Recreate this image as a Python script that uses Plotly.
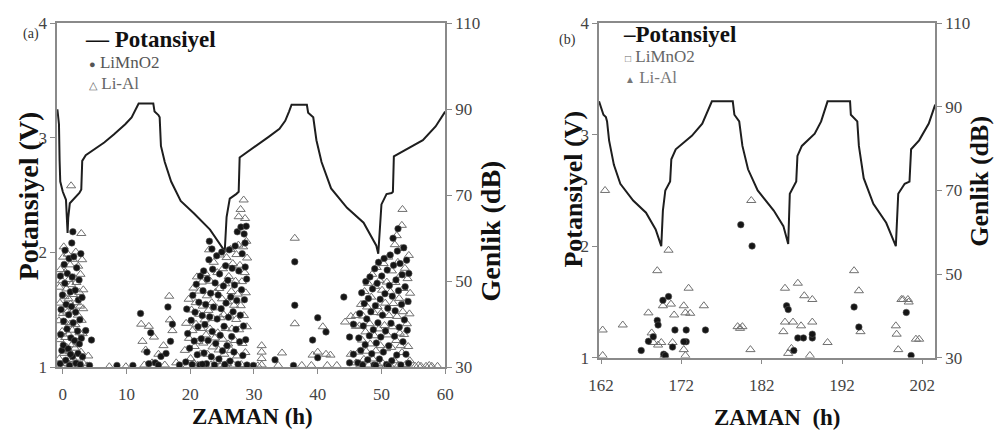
import plotly.graph_objects as go

W, H = 1003, 448
FONT = "Liberation Serif"

# ---------------- data: panel (a) ----------------
pot_a_t = [-0.85, -0.6, -0.5, -0.4, 0.0, 0.5, 0.75, 0.85, 1.1, 1.8, 2.6, 2.9, 3.05, 3.6, 5.0, 6.5, 8.0, 9.8, 10.8, 11.5,
           11.9, 14.2, 14.4, 15.0, 15.2, 15.4, 16.0, 17.0, 18.5, 20.6, 23.1, 25.2, 25.4, 25.7, 26.2, 27.2, 27.6, 27.75,
           28.8, 30.5, 32.3, 34.0, 34.9, 35.5, 35.9, 38.3, 38.5, 39.3, 39.8, 40.6, 42.1, 44.6, 47.2, 49.2, 49.5, 50.0,
           50.8, 51.6, 51.8, 51.95, 52.9, 54.7, 56.5, 58.5, 60.0]
pot_a_v = [3.25, 3.12, 2.8, 2.62, 2.53, 2.46, 2.17, 2.3, 2.43, 2.47, 2.52, 2.55, 2.8, 2.85, 2.9, 2.96, 3.03, 3.12, 3.18, 3.25,
           3.3, 3.3, 3.23, 3.2, 3.18, 2.93, 2.79, 2.62, 2.45, 2.34, 2.2, 2.03, 2.0, 2.31, 2.47, 2.51, 2.53, 2.83,
           2.87, 2.94, 3.01, 3.08, 3.15, 3.23, 3.29, 3.29, 3.22, 3.18, 2.98, 2.79, 2.56, 2.39, 2.26, 2.06, 1.99, 2.42,
           2.51, 2.52, 2.53, 2.84, 2.87, 2.93, 2.98, 3.1, 3.23]

# LiMnO2 acoustic events in (a): (time h, amplitude dB)
a_limno2 = [
    (-0.42, 30.8), (-0.15, 33.9), (-0.33, 37.6), (0.08, 35.1), (-0.27, 43.4), (0.12, 40.7), (-0.05, 46.8), (0.31, 49.5),
    (-0.38, 51.2), (0.22, 53.9), (0.47, 31.6), (0.66, 38.9), (0.52, 44.6), (0.84, 34.3), (0.71, 51.8), (0.93, 42.2),
    (1.06, 30.4), (1.18, 47.5), (0.98, 55.3), (1.27, 36.8), (1.41, 58.9), (1.36, 44.1), (1.52, 32.5), (1.63, 40.3),
    (1.47, 51.0), (1.72, 55.7), (1.84, 36.2), (1.95, 47.9), (2.07, 30.9), (2.02, 42.8), (2.18, 53.1), (2.31, 38.4),
    (2.44, 45.6), (2.39, 33.2), (2.55, 50.3), (2.68, 41.0), (2.74, 30.6), (2.83, 56.4), (2.91, 36.7), (3.02, 46.2),
    (3.1, 32.4), (1.58, 61.5), (0.35, 57.2), (2.6, 35.4), (1.2, 33.0),
    (3.6, 38.5), (4.5, 36.3), (4.2, 30.4), (8.5, 30.4), (11.0, 30.4),
    (12.2, 42.5), (13.2, 33.5), (13.8, 38.0), (14.5, 31.0), (15.4, 32.5), (16.5, 44.0), (16.9, 36.0),
    (17.2, 40.0), (18.3, 30.5), (15.0, 30.5), (13.5, 30.8), (16.2, 33.2),
    (19.3, 31.2), (19.6, 37.8), (19.45, 43.5), (19.9, 34.4), (20.15, 40.9), (20.3, 30.6), (20.4, 46.7), (20.62, 36.1),
    (20.75, 42.8), (20.95, 49.3), (21.1, 32.9), (21.22, 39.4), (21.35, 45.1), (21.5, 30.5), (21.6, 51.2), (21.73, 36.6),
    (21.88, 42.0), (22.0, 47.8), (22.1, 52.4), (22.16, 33.3), (22.3, 39.9), (22.42, 44.6), (22.55, 30.8), (22.67, 50.5),
    (22.8, 36.2), (22.93, 55.0), (23.0, 59.3), (23.06, 41.7), (23.2, 47.2), (23.3, 32.4), (23.45, 38.3), (23.52, 52.8),
    (23.66, 44.0), (23.8, 30.5), (23.9, 49.6), (24.0, 35.5), (24.15, 55.9), (24.22, 41.2), (24.38, 46.8), (24.5, 31.9),
    (24.6, 51.7), (24.7, 37.4), (24.85, 43.6), (24.95, 56.8), (25.06, 33.8), (25.2, 48.9), (25.3, 39.5), (25.42, 30.6),
    (25.55, 53.6), (25.62, 44.9), (25.77, 35.0), (25.9, 50.2), (26.0, 41.6), (26.12, 57.3), (26.25, 31.4), (26.35, 46.3),
    (26.5, 37.1), (26.58, 53.0), (26.72, 42.9), (26.85, 33.5), (26.95, 49.1), (27.05, 58.2), (27.18, 38.8), (27.3, 45.5),
    (27.38, 61.5), (27.5, 30.7), (27.62, 52.4), (27.75, 35.9), (27.85, 42.1), (27.95, 62.6), (28.05, 48.0), (28.15, 56.4),
    (28.25, 32.7), (28.35, 39.6), (28.45, 61.0), (28.5, 45.7), (28.62, 53.3), (28.7, 36.4), (28.78, 62.8), (28.85, 50.5),
    (28.9, 30.5), (28.6, 58.9), (21.9, 30.7), (23.4, 57.5),
    (29.9, 30.4), (33.3, 31.7), (36.4, 54.5), (36.4, 44.4), (39.2, 36.3), (40.0, 41.5), (41.3, 38.2),
    (40.0, 32.2), (36.2, 30.4), (44.1, 46.3), (45.0, 31.0), (45.0, 37.0), (45.6, 33.0), (45.6, 40.0),
    (46.3, 31.0), (46.45, 36.8), (46.6, 42.5), (46.75, 33.9), (46.9, 47.3), (47.05, 30.5), (47.15, 39.6), (47.3, 44.8),
    (47.45, 35.2), (47.55, 49.9), (47.7, 41.2), (47.85, 31.7), (47.95, 46.0), (48.1, 37.3), (48.2, 51.0), (48.35, 42.9),
    (48.48, 33.1), (48.6, 48.2), (48.72, 38.7), (48.85, 30.5), (48.95, 52.9), (49.05, 44.3), (49.2, 35.6), (49.32, 49.5),
    (49.45, 40.3), (49.55, 54.4), (49.68, 31.9), (49.8, 45.8), (49.9, 37.0), (50.05, 51.2), (50.15, 42.1), (50.3, 33.5),
    (50.42, 55.3), (50.55, 47.1), (50.65, 38.4), (50.8, 30.6), (50.9, 52.6), (51.0, 43.7), (51.15, 35.0), (51.25, 49.0),
    (51.38, 56.1), (51.5, 40.2), (51.62, 31.5), (51.7, 46.5), (51.82, 60.0), (51.9, 53.7), (52.05, 37.2), (52.15, 43.1),
    (52.28, 50.3), (52.4, 32.8), (52.5, 57.0), (52.6, 62.2), (52.68, 47.8), (52.8, 39.3), (52.92, 54.1), (53.05, 30.5),
    (53.15, 44.6), (53.25, 51.5), (53.38, 35.9), (53.5, 57.8), (53.6, 41.0), (53.72, 48.7), (53.85, 33.0), (53.95, 54.9),
    (54.05, 38.6), (54.18, 45.3), (54.3, 51.8), (54.25, 30.9), (49.1, 30.4), (51.1, 30.3),
]

# Li-Al acoustic events in (a): (time h, amplitude dB)
a_lial = [
    (-0.55, 31.9), (-0.48, 36.4), (-0.6, 40.8), (-0.44, 44.9), (-0.52, 48.6), (-0.36, 52.7), (-0.2, 30.3), (-0.1, 38.3),
    (0.02, 42.5), (-0.12, 50.1), (0.05, 55.6), (0.18, 33.2), (0.27, 46.4), (0.38, 36.9), (0.44, 40.4), (0.41, 52.1),
    (0.57, 48.2), (0.62, 34.6), (0.74, 30.9), (0.69, 42.8), (0.78, 56.3), (0.88, 37.7), (0.9, 45.9), (0.96, 50.4),
    (1.03, 33.6), (1.12, 40.0), (1.15, 53.8), (1.22, 44.7), (1.31, 30.5), (1.33, 49.2), (1.44, 35.2), (1.5, 38.6),
    (1.56, 55.1), (1.61, 46.9), (1.7, 31.8), (1.75, 43.3), (1.8, 50.8), (1.9, 34.4), (1.98, 39.9), (2.04, 56.8),
    (2.1, 45.0), (2.14, 49.7), (2.22, 32.1), (2.27, 35.8), (2.36, 42.1), (2.42, 53.5), (2.5, 30.4), (2.58, 47.4),
    (2.63, 38.0), (2.7, 44.2), (2.77, 51.6), (2.86, 33.5), (2.9, 61.1), (2.96, 40.9), (3.04, 55.0), (3.13, 37.8),
    (3.2, 43.6), (3.27, 30.8), (3.22, 48.0), (0.15, 58.0),
    (1.3, 72.2), (4.0, 32.6), (3.8, 30.3), (7.3, 30.1), (9.9, 30.1),
    (12.3, 40.0), (12.5, 36.0), (13.0, 34.0), (13.5, 39.5), (14.3, 37.0), (15.0, 33.0), (15.8, 35.0),
    (16.7, 46.5), (16.8, 41.0), (17.2, 38.5), (14.0, 31.0), (17.8, 31.0), (12.8, 30.5), (16.0, 30.5),
    (19.15, 33.9), (19.35, 40.2), (19.55, 30.4), (19.75, 45.8), (19.8, 36.7), (20.05, 32.0), (20.2, 43.3), (20.35, 38.5),
    (20.5, 48.4), (20.55, 30.9), (20.7, 34.8), (20.85, 45.0), (20.9, 40.0), (21.05, 51.0), (21.15, 30.5), (21.28, 36.0),
    (21.4, 42.3), (21.45, 47.7), (21.62, 33.1), (21.7, 39.0), (21.82, 49.8), (21.95, 44.2), (22.05, 35.6), (22.2, 30.4),
    (22.25, 41.0), (22.38, 51.8), (22.48, 37.5), (22.6, 46.6), (22.72, 33.0), (22.85, 43.2), (22.95, 57.3), (23.1, 38.9),
    (23.15, 50.0), (23.25, 30.5), (23.38, 45.0), (23.5, 34.7), (23.6, 41.3), (23.7, 54.4), (23.85, 36.8), (23.95, 47.4),
    (24.05, 31.3), (24.12, 43.8), (24.25, 52.0), (24.32, 38.0), (24.45, 34.0), (24.55, 48.3), (24.65, 56.1), (24.75, 41.5),
    (24.9, 30.5), (24.98, 45.9), (25.1, 36.5), (25.15, 52.9), (25.25, 42.2), (25.35, 33.0), (25.48, 49.4), (25.58, 39.0),
    (25.7, 55.5), (25.8, 30.8), (25.85, 45.2), (25.95, 35.4), (26.05, 51.1), (26.18, 41.9), (26.3, 57.4), (26.4, 33.9),
    (26.45, 47.6), (26.55, 38.9), (26.68, 54.1), (26.8, 30.5), (26.88, 44.4), (27.0, 36.2), (27.1, 50.0), (27.2, 41.1),
    (27.25, 56.2), (27.35, 32.6), (27.45, 47.0), (27.55, 58.4), (27.6, 65.0), (27.68, 38.7), (27.8, 53.7), (27.9, 66.7),
    (27.92, 44.3), (28.0, 30.6), (28.1, 49.9), (28.2, 35.5), (28.3, 58.0), (28.38, 68.9), (28.42, 42.0), (28.55, 52.0),
    (28.65, 33.4), (28.72, 47.3), (28.8, 59.3), (28.88, 39.4), (28.92, 55.4), (28.6, 64.6), (25.5, 30.5),
    (31.2, 30.5), (31.2, 32.0), (31.2, 33.5), (31.2, 35.0), (30.6, 30.3), (34.4, 33.3), (33.8, 30.4),
    (36.4, 60.0), (36.4, 40.1), (39.2, 32.8), (40.0, 33.5), (40.8, 39.4), (41.3, 33.0), (42.0, 32.8),
    (37.5, 30.4), (39.0, 30.4), (41.5, 30.4), (43.0, 30.4),
    (44.3, 40.5), (45.2, 41.8), (45.2, 33.0), (46.0, 39.5), (46.0, 42.0), (46.0, 31.0),
    (46.4, 33.5), (46.55, 39.6), (46.7, 30.5), (46.8, 44.6), (46.95, 36.3), (47.1, 41.9), (47.25, 31.8), (47.35, 47.6),
    (47.5, 38.2), (47.6, 33.7), (47.75, 44.0), (47.9, 49.5), (48.0, 30.5), (48.15, 40.1), (48.25, 35.4), (48.4, 46.3),
    (48.55, 51.6), (48.65, 31.9), (48.8, 42.7), (48.9, 37.3), (49.0, 48.8), (49.12, 33.8), (49.25, 53.2), (49.38, 44.1),
    (49.5, 30.5), (49.6, 38.9), (49.72, 50.2), (49.85, 35.0), (49.95, 42.6), (50.1, 47.9), (50.2, 30.9), (50.35, 54.1),
    (50.48, 39.7), (50.6, 44.9), (50.72, 34.3), (50.85, 49.8), (50.95, 37.5), (51.05, 55.6), (51.2, 42.0), (51.3, 30.5),
    (51.42, 47.5), (51.55, 34.6), (51.65, 52.4), (51.75, 39.4), (51.88, 44.8), (52.0, 31.5), (52.1, 58.5), (52.2, 49.7),
    (52.32, 36.2), (52.4, 60.6), (52.45, 41.8), (52.58, 54.4), (52.7, 30.5), (52.78, 46.0), (52.88, 37.9), (53.0, 51.4),
    (53.1, 57.6), (53.2, 63.0), (53.22, 33.4), (53.3, 66.7), (53.35, 42.9), (53.45, 48.3), (53.55, 37.6), (53.68, 53.0),
    (53.8, 30.6), (53.9, 45.2), (54.0, 40.1), (54.1, 50.6), (54.2, 34.8), (54.3, 56.0), (54.4, 42.4), (54.45, 31.5),
    (54.5, 47.2), (53.0, 35.0),
    (55.3, 30.2), (56.2, 30.2), (57.0, 30.2), (57.9, 30.2), (58.8, 30.2), (55.8, 30.4), (57.5, 30.4),
]

# ---------------- data: panel (b) ----------------
pot_b_t = [161.75, 162.3, 162.6, 162.75, 163.0, 163.6, 164.4, 166.0, 167.6, 168.8, 169.5, 169.7, 170.0, 170.5, 170.6,
           170.75, 171.3, 173.3, 174.6, 175.8, 178.4, 178.6, 179.2, 179.6, 180.3, 181.5, 183.5, 184.7, 185.3, 185.5,
           186.1, 186.3, 186.45, 187.0, 188.6, 189.4, 190.2, 193.0, 193.1, 193.9, 194.1, 194.7, 195.9, 197.5, 198.7,
           199.0, 199.8, 200.4, 200.6, 201.6, 202.8, 203.6]
pot_b_v = [3.3, 3.18, 3.16, 3.12, 2.95, 2.73, 2.56, 2.41, 2.30, 2.15, 2.0, 2.32, 2.5, 2.56, 2.58,
           2.78, 2.87, 2.99, 3.1, 3.3, 3.3, 3.18, 3.12, 2.9, 2.69, 2.5, 2.32, 2.18, 2.02, 2.47,
           2.56, 2.58, 2.81, 2.9, 3.01, 3.12, 3.3, 3.3, 3.18, 3.12, 2.9, 2.61, 2.38, 2.21, 2.0,
           2.47, 2.56, 2.58, 2.87, 2.95, 3.1, 3.27]

b_limno2 = [
    (167.0, 31.7), (167.9, 33.9), (169.0, 38.9), (169.1, 37.8), (169.7, 43.7), (170.4, 44.6), (169.8, 30.8),
    (170.9, 32.5), (171.2, 36.6), (172.6, 36.6), (172.6, 33.8), (172.3, 33.8), (175.0, 36.6), (180.8, 56.7),
    (179.4, 61.8), (185.1, 42.4), (185.3, 41.5), (186.0, 31.7), (186.5, 34.7), (187.2, 34.7), (188.3, 34.7),
    (188.3, 35.6), (193.5, 42.1), (194.1, 37.3), (200.0, 40.8), (200.6, 30.5), (168.5, 35.0), (170.0, 30.5),
]
b_lial = [
    (162.2, 36.6), (162.2, 30.5), (162.5, 70.0), (164.7, 37.8), (167.9, 40.7), (168.3, 35.9), (168.5, 33.6),
    (169.1, 33.0), (169.5, 33.6), (169.0, 50.8), (170.4, 55.7), (169.7, 42.4), (170.7, 42.8), (171.1, 40.2),
    (172.3, 42.4), (172.5, 40.7), (172.9, 46.6), (174.8, 42.4), (170.9, 33.6), (172.3, 31.9), (172.5, 30.5),
    (173.1, 40.6), (169.9, 30.5), (179.0, 37.4), (179.6, 37.4), (179.3, 37.0), (180.6, 31.9), (180.7, 67.6),
    (184.9, 46.6), (186.5, 47.8), (187.3, 44.8), (188.3, 43.9), (184.9, 38.5), (185.9, 38.5), (184.7, 36.2),
    (186.9, 37.6), (188.3, 38.5), (185.7, 32.2), (188.0, 30.5), (190.2, 33.6), (193.5, 50.8), (194.1, 46.0),
    (194.3, 36.2), (198.7, 37.6), (198.8, 35.6), (199.0, 31.9), (199.4, 43.9), (199.6, 43.9), (200.2, 43.9),
    (200.3, 43.3), (201.2, 34.4), (201.6, 34.4), (185.3, 31.0),
]

a_xticks = [0, 10, 20, 30, 40, 50, 60]
b_xticks = [162, 172, 182, 192, 202]
v_ticks = [1, 2, 3, 4]
db_ticks = [30, 50, 70, 90, 110]


def px(x):
    return x / W


def py(y):
    return 1 - y / H


fig = go.Figure()

TRI = dict(symbol="triangle-up-open", size=8, color="#707070", line=dict(width=1, color="#707070"))
DOT = dict(symbol="circle", size=6.5, color="#151515", line=dict(width=0.6, color="#555555"))
LINE = dict(color="#1e1e1e", width=2)

fig.add_trace(go.Scatter(x=pot_a_t, y=pot_a_v, mode="lines", line=LINE, xaxis="x", yaxis="y", showlegend=False))
fig.add_trace(go.Scatter(x=[p[0] for p in a_lial], y=[p[1] for p in a_lial], mode="markers", marker=TRI,
                         xaxis="x", yaxis="y2", showlegend=False))
fig.add_trace(go.Scatter(x=[p[0] for p in a_limno2], y=[p[1] for p in a_limno2], mode="markers", marker=DOT,
                         xaxis="x", yaxis="y2", showlegend=False))
fig.add_trace(go.Scatter(x=pot_b_t, y=pot_b_v, mode="lines", line=LINE, xaxis="x2", yaxis="y3", showlegend=False))
fig.add_trace(go.Scatter(x=[p[0] for p in b_lial], y=[p[1] for p in b_lial], mode="markers", marker=TRI,
                         xaxis="x2", yaxis="y4", showlegend=False))
fig.add_trace(go.Scatter(x=[p[0] for p in b_limno2], y=[p[1] for p in b_limno2], mode="markers", marker=DOT,
                         xaxis="x2", yaxis="y4", showlegend=False))

TICKFONT = dict(family=FONT, size=17, color="#444444")
AX = dict(showline=True, linecolor="#8a8a8a", linewidth=1.5, showgrid=False, zeroline=False,
          ticks="outside", ticklen=5, tickcolor="#8a8a8a", tickfont=TICKFONT)

fig.update_layout(
    width=W, height=H, margin=dict(l=0, r=0, t=0, b=0),
    paper_bgcolor="white", plot_bgcolor="white",
    font=dict(family=FONT),
    xaxis=dict(domain=[px(47), px(443)], range=[-0.9, 60], anchor="y", tickvals=a_xticks, mirror=True,
               ticklabelstandoff=6, **AX),
    yaxis=dict(domain=[py(374), py(15)], range=[1, 4], anchor="x", tickvals=v_ticks, **AX),
    yaxis2=dict(range=[30, 110], overlaying="y", side="right", anchor="x", tickvals=db_ticks, **AX),
    xaxis2=dict(domain=[px(600), px(943)], range=[161.75, 203.6], anchor="y3", tickvals=b_xticks, mirror=True,
                ticklabelstandoff=6, **AX),
    yaxis3=dict(domain=[py(364), py(15)], range=[1, 4], anchor="x2", tickvals=v_ticks, **AX),
    yaxis4=dict(range=[30, 110], overlaying="y3", side="right", anchor="x2", tickvals=db_ticks, **AX),
)

ann = []


def add(text, x, y, size, angle=0, xanchor="center", color=None, bold=True):
    f = dict(family=FONT, size=size, color=color or "#111111")
    if bold:
        f["weight"] = "bold"
    ann.append(dict(text=text, x=px(x), y=py(y), xref="paper", yref="paper", showarrow=False,
                    textangle=angle, xanchor=xanchor, yanchor="middle", font=f))


add("ZAMAN (h)", 246, 426, 23)
add("ZAMAN  (h)", 782, 427, 23)
add("Potansiyel (V)", 18, 195, 28, angle=-90)
add("Potansiyel (V)", 573, 188, 26, angle=-90)
add("Genlik (dB)", 489, 232, 28, angle=-90)
add("Genlik (dB)", 988, 180, 26, angle=-90)
add("(a)", 20, 26, 14, bold=False, color="#333333")
add("(b)", 568, 32, 14, bold=False, color="#333333")
add("— Potansiyel", 73, 32, 23, xanchor="left")
add("<span style='font-size:11px'>●</span> LiMnO2", 78, 56, 17, xanchor="left", bold=False, color="#555555")
add("<span style='font-size:11px'>△</span> Li-Al", 78, 78, 17, xanchor="left", bold=False, color="#666666")
add("–Potansiyel", 622, 27, 23, xanchor="left")
add("<span style='font-size:10px'>□</span> LiMnO2", 624, 50, 17, xanchor="left", bold=False, color="#666666")
add("<span style='font-size:10px'>▲</span> Li-Al", 624, 72, 17, xanchor="left", bold=False, color="#777777")

fig.update_layout(annotations=ann)
fig.write_html("out.html")
